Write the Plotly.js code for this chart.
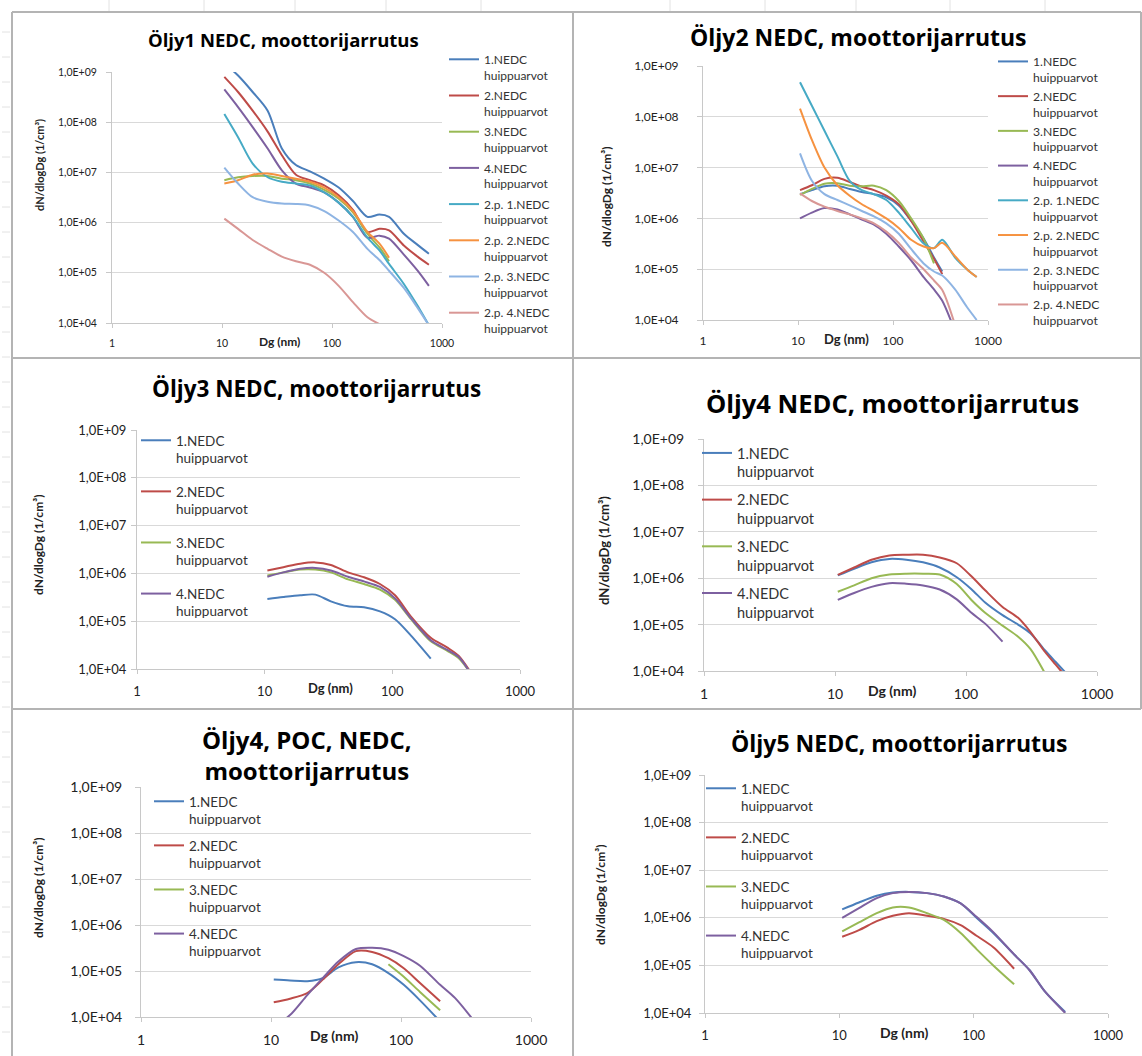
<!DOCTYPE html>
<html><head><meta charset="utf-8">
<script src="https://cdn.plot.ly/plotly-3.0.1.min.js"></script>
<style>html,body{margin:0;padding:0;background:#fff}#chart{width:1142px;height:1056px}</style>
</head><body><div id="chart"></div>
<script>
// ---------- data ----------
const seriesNames = ["1.NEDC<br>huippuarvot","2.NEDC<br>huippuarvot","3.NEDC<br>huippuarvot","4.NEDC<br>huippuarvot",
  "2.p. 1.NEDC<br>huippuarvot","2.p. 2.NEDC<br>huippuarvot","2.p. 3.NEDC<br>huippuarvot","2.p. 4.NEDC<br>huippuarvot"];
const xTickVals = [1,10,100,1000];
const xTickText = ["1","10","100","1000"];
const yTickVals = [1e4,1e5,1e6,1e7,1e8,1e9];
const yTickText = ["1,0E+04","1,0E+05","1,0E+06","1,0E+07","1,0E+08","1,0E+09"];
const titles = ["Öljy1 NEDC, moottorijarrutus","Öljy2 NEDC, moottorijarrutus","Öljy3 NEDC, moottorijarrutus",
  "Öljy4 NEDC, moottorijarrutus","Öljy4, POC, NEDC,<br>moottorijarrutus","Öljy5 NEDC, moottorijarrutus"];
const xTitle = "Dg (nm)";
const yTitle = "dN/dlogDg (1/cm³)";

// Öljy1
const dg1 = [10.5,14,19,26,35,47,63,85,115,155,210,270,330,450,600,760];
const o1_n1 = [1.5e9,8.5e8,4e8,1.7e8,3e7,1.4e7,1.05e7,7.5e6,5e6,2.7e6,1.3e6,1.45e6,1.3e6,6e5,3.6e5,2.4e5];
const o1_n2 = [8e8,4e8,1.7e8,6.5e7,2.2e7,9e6,7e6,5.5e6,3.5e6,1.8e6,6.5e5,7.5e5,7e5,3.5e5,2.1e5,1.45e5];
const o1_n3 = [7e6,8e6,8.5e6,8.5e6,7.5e6,7e6,6e6,4.5e6,3e6,1.6e6,6e5,3.2e5,1.7e5,null,null,null];
const o1_n4 = [4.5e8,2e8,8e7,3e7,1.1e7,6e6,5e6,4e6,2.5e6,1.3e6,5e5,5.5e5,4.8e5,2.3e5,1.1e5,5.5e4];
const o1_p1 = [1.45e8,5e7,1.5e7,8e6,6.5e6,6e6,5.5e6,4e6,2.5e6,1.3e6,5e5,2.8e5,1.5e5,6e4,2.2e4,9e3];
const o1_p2 = [6e6,7e6,9e6,9.5e6,8.5e6,7.5e6,6.5e6,5e6,3.2e6,1.7e6,6.5e5,3.8e5,2e5,null,null,null];
const o1_p3 = [1.25e7,6e6,3.2e6,2.6e6,2.4e6,2.35e6,2.2e6,1.7e6,1.1e6,6.5e5,3e5,1.8e5,1.1e5,5e4,2e4,9e3];
const o1_p4 = [1.2e6,7.5e5,4.5e5,3e5,2.1e5,1.7e5,1.45e5,1e5,5.5e4,2.6e4,1.3e4,9.5e3,null,null,null,null];

// Öljy2
const dg2 = [10.5,14,19,26,35,47,63,85,115,155,210,270,330,450,600,760];
const o2_n1 = [3e6,3.6e6,4.3e6,4.4e6,3.8e6,3.3e6,3e6,2.6e6,1.8e6,9e5,4e5,1.7e5,9e4,null,null,null];
const o2_n2 = [3.6e6,4.5e6,6e6,6.3e6,5.2e6,4.2e6,3.6e6,2.8e6,1.9e6,9e5,3.5e5,1.6e5,8e4,null,null,null];
const o2_n3 = [2.9e6,3.8e6,4.8e6,4.9e6,4.4e6,4.3e6,4.4e6,3.6e6,2.2e6,1e6,4e5,1.3e5,null,null,null,null];
const o2_n4 = [1e6,1.3e6,1.6e6,1.5e6,1.2e6,9.5e5,7.5e5,5e5,2.8e5,1.5e5,7e4,4e4,2.4e4,6e3,null,null];
const o2_p1 = [4.8e8,1.65e8,5.3e7,1.66e7,5.5e6,3.6e6,3e6,2.3e6,1.3e6,6.5e5,3.2e5,2.6e5,3.8e5,1.7e5,1e5,7e4];
const o2_p2 = [1.45e8,3.5e7,1e7,4.5e6,2.8e6,1.9e6,1.4e6,1e6,6.5e5,3.8e5,2.8e5,2.6e5,3.3e5,1.8e5,1e5,7e4];
const o2_p3 = [1.9e7,5.5e6,3e6,2.3e6,1.8e6,1.4e6,1.1e6,8e5,5e5,2.5e5,1.3e5,9e4,7.5e4,4e4,1.8e4,1e4];
const o2_p4 = [3.1e6,2.2e6,1.7e6,1.4e6,1.2e6,1e6,8e5,5.5e5,3.3e5,1.7e5,1e5,6e4,3.9e4,8e3,null,null];

// Öljy3
const dg3 = [10.5,14,19,25,33,45,60,80,105,140,200,270,330,400];
const o3_n1 = [2.9e5,3.2e5,3.5e5,3.6e5,2.6e5,2.05e5,1.95e5,1.6e5,1.1e5,5e4,1.65e4,null,null,null];
const o3_n2 = [1.15e6,1.35e6,1.6e6,1.7e6,1.5e6,1.05e6,8.3e5,6e5,3.5e5,1.25e5,4.5e4,2.8e4,1.9e4,9.5e3];
const o3_n3 = [9e5,1.05e6,1.2e6,1.2e6,1.05e6,7.5e5,6e5,4.6e5,2.8e5,1.1e5,3.8e4,2.4e4,1.7e4,9e3];
const o3_n4 = [8.5e5,1.05e6,1.25e6,1.3e6,1.15e6,8.5e5,6.8e5,5.2e5,3e5,1.15e5,4e4,2.5e4,1.8e4,9e3];

// Öljy4
const dg4 = [10.5,14,19,26,35,47,63,85,110,140,190,250,310,400,480,580];
const o4_n1 = [1.15e6,1.6e6,2.2e6,2.6e6,2.5e6,2.2e6,1.7e6,1.05e6,5.8e5,3e5,1.6e5,1e5,6.5e4,2.8e4,1.6e4,9e3];
const o4_n2 = [1.18e6,1.7e6,2.5e6,3.1e6,3.2e6,3.2e6,2.8e6,2.1e6,1.1e6,5.5e5,2.4e5,1.4e5,7e4,2.6e4,1.4e4,7.5e3];
const o4_n3 = [5.1e5,7e5,1e6,1.2e6,1.25e6,1.25e6,1.2e6,7.5e5,3.4e5,1.8e5,9.5e4,5.5e4,3e4,9e3,null,null];
const o4_n4 = [3.4e5,4.8e5,6.5e5,7.8e5,7.6e5,7e5,5.7e5,3.5e5,1.8e5,1.05e5,4.3e4,null,null,null,null,null];

// Öljy4, POC
const dg5 = [10.5,14,19,25,33,45,60,80,105,140,200,260,350];
const o5_n1 = [6.5e4,6.2e4,6e4,7e4,1.2e5,1.55e5,1.4e5,9e4,5e4,2.3e4,8e3,null,null];
const o5_n2 = [2.1e4,2.5e4,3.3e4,6.5e4,1.4e5,2.7e5,2.6e5,1.9e5,1.15e5,5.5e4,2.2e4,null,null];
const o5_n3 = [null,null,null,null,null,null,null,1.4e5,7.5e4,3.5e4,1.4e4,null,null];
const o5_n4 = [6e3,1.1e4,3e4,7e4,1.6e5,3e5,3.2e5,2.9e5,2.1e5,1.3e5,5e4,2.6e4,9.5e3];

// Öljy5
const dg6 = [10.5,14,19,25,33,45,60,80,105,140,200,260,340,480];
const o6_n1 = [1.5e6,2.1e6,2.9e6,3.4e6,3.5e6,3.3e6,2.8e6,2e6,1e6,4.8e5,1.7e5,8e4,2.8e4,1.05e4];
const o6_n2 = [4e5,5.5e5,8.5e5,1.1e6,1.25e6,1.1e6,9.5e5,7e5,4.2e5,2.4e5,8.5e4,null,null,null];
const o6_n3 = [5.2e5,8e5,1.25e6,1.65e6,1.65e6,1.25e6,9e5,4.8e5,2.2e5,1e5,4e4,null,null,null];
const o6_n4 = [1e6,1.6e6,2.6e6,3.3e6,3.5e6,3.3e6,2.8e6,2e6,1.05e6,5e5,1.7e5,8e4,2.8e4,1e4];

// ---------- style ----------
const colors = ["#4A7EBB","#BE4B48","#98B954","#7D60A0","#46AAC5","#F69240","#8EB4E3","#D99795"];
const FONT = "Lato, 'Open Sans', sans-serif";
const TFONT = "'Open Sans', Lato, sans-serif";
const W = 1142, H = 1056;
const px = v => v / W, py = v => 1 - v / H;

const panels = [
  {dg:dg1, s:[o1_n1,o1_n2,o1_n3,o1_n4,o1_p1,o1_p2,o1_p3,o1_p4], box:[112,442,72,323], title:{x:283,y:39,fs:18.5},
   leg:{x:444,y:45,fs:12,gap:2}, tfs:10.5, yst:7, ytl:{x:39,y:165,fs:11}, xl:{x:279,y:341,fs:12}},
  {dg:dg2, s:[o2_n1,o2_n2,o2_n3,o2_n4,o2_p1,o2_p2,o2_p3,o2_p4], box:[703,988,66,320], title:{x:858,y:37,fs:23},
   leg:{x:993,y:47,fs:12.2,gap:0}, tfs:12, yst:16, ytl:{x:607,y:197,fs:12}, xl:{x:846,y:339,fs:13}},
  {dg:dg3, s:[o3_n1,o3_n2,o3_n3,o3_n4], box:[137,520,430,669], title:{x:316,y:388,fs:22.5},
   leg:{x:136,y:425,fs:13.5,gap:13}, tfs:13, yst:2, ytl:{x:38,y:545,fs:12}, xl:{x:330,y:688,fs:13}},
  {dg:dg4, s:[o4_n1,o4_n2,o4_n3,o4_n4], box:[704,1097,439,671], title:{x:892,y:403,fs:25.5},
   leg:{x:697,y:437,fs:14.5,gap:6}, tfs:14, yst:11, ytl:{x:604,y:551,fs:13}, xl:{x:892,y:690,fs:14}},
  {dg:dg5, s:[o5_n1,o5_n2,o5_n3,o5_n4], box:[141,531,787,1017], title:{x:307,y:755,fs:24},
   leg:{x:149,y:786,fs:13.5,gap:6}, tfs:14, yst:10, ytl:{x:38,y:888,fs:12}, xl:{x:334,y:1035,fs:14}},
  {dg:dg6, s:[o6_n1,o6_n2,o6_n3,o6_n4], box:[705,1108,775,1013], title:{x:899,y:743,fs:23},
   leg:{x:701,y:773,fs:13.5,gap:11}, tfs:13, yst:5, ytl:{x:600,y:895,fs:12}, xl:{x:904,y:1032,fs:14}}
];

const data = [];
const layout = {width:W, height:H, margin:{l:0,r:0,t:0,b:0}, paper_bgcolor:"#fff", plot_bgcolor:"rgba(0,0,0,0)",
  showlegend:true, annotations:[], shapes:[], font:{family:FONT, color:"#222"}};

panels.forEach((p, i) => {
  const k = i === 0 ? "" : String(i + 1);
  const legKey = "legend" + k;
  p.s.forEach((vals, j) => {
    data.push({type:"scatter", mode:"lines", x:p.dg, y:vals, xaxis:"x"+k, yaxis:"y"+k,
      name:seriesNames[j], legend:legKey, legendgroup:"g"+i+"_"+j, connectgaps:false, hoverinfo:"skip",
      line:{color:colors[j], width:2, shape:"spline", smoothing:0.8}});
  });
  const [x0,x1,y0,y1] = p.box;
  layout["xaxis"+k] = {type:"log", range:[0,3], domain:[px(x0),px(x1)], anchor:"y"+k,
    tickmode:"array", tickvals:xTickVals, ticktext:xTickText, showgrid:false, zeroline:false,
    showline:true, linecolor:"#c8c8c8", linewidth:1, ticks:"outside", ticklen:4, tickcolor:"#c8c8c8",
    ticklabelstandoff:6, tickfont:{family:FONT, size:p.tfs, color:"#222"}, fixedrange:true};
  layout["yaxis"+k] = {type:"log", range:[4,9], domain:[py(y1),py(y0)], anchor:"x"+k,
    tickmode:"array", tickvals:yTickVals, ticktext:yTickText, showgrid:true, gridcolor:"#d9d9d9", gridwidth:1,
    zeroline:false, showline:true, linecolor:"#c8c8c8", linewidth:1, ticks:"outside", ticklen:5, tickcolor:"#c8c8c8",
    ticklabelstandoff:p.yst, tickfont:{family:FONT, size:p.tfs, color:"#222"}, fixedrange:true};
  layout[legKey] = {x:px(p.leg.x), y:py(p.leg.y), xanchor:"left", yanchor:"top", bgcolor:"rgba(0,0,0,0)",
    borderwidth:0, font:{family:FONT, size:p.leg.fs, color:"#333"}, tracegroupgap:p.leg.gap, valign:"top",
    itemclick:false, itemdoubleclick:false};
  layout.annotations.push({text:titles[i], xref:"paper", yref:"paper", x:px(p.title.x), y:py(p.title.y),
    xanchor:"center", yanchor:"middle", showarrow:false, font:{family:TFONT, size:p.title.fs, color:"#000", weight:700}});
  layout.annotations.push({text:yTitle, xref:"paper", yref:"paper", x:px(p.ytl.x), y:py(p.ytl.y), textangle:-90,
    xanchor:"center", yanchor:"middle", showarrow:false, font:{family:FONT, size:p.ytl.fs, color:"#222", weight:700}});
  layout.annotations.push({text:xTitle, xref:"paper", yref:"paper", x:px(p.xl.x), y:py(p.xl.y),
    xanchor:"center", yanchor:"middle", showarrow:false, font:{family:FONT, size:p.xl.fs, color:"#222", weight:700}});
});

// chart-frame borders
const border = {color:"#b4b4b4", width:2};
[[12,12,1141,12],[12,358,1141,358],[12,709,1141,709],[12,12,12,1056],[573,12,573,1056],[1141,12,1141,709]].forEach(b => {
  layout.shapes.push({type:"line", xref:"paper", yref:"paper", x0:px(b[0]), y0:py(b[1]), x1:px(b[2]), y1:py(b[3]), line:border, layer:"below"});
});
// faint spreadsheet cell lines peeking out at the top and left edges
const faint = {color:"#e2e2e2", width:1};
[109,204,295,386,481,670,765,856,950,1045].forEach(x => {
  layout.shapes.push({type:"line", xref:"paper", yref:"paper", x0:px(x), y0:py(0), x1:px(x), y1:py(11), line:faint, layer:"below"});
});
for (let y = 32; y < H; y += 25) {
  layout.shapes.push({type:"line", xref:"paper", yref:"paper", x0:px(2), y0:py(y), x1:px(10), y1:py(y), line:faint, layer:"below"});
}

Plotly.newPlot("chart", data, layout, {staticPlot:true, displayModeBar:false});
</script></body></html>
